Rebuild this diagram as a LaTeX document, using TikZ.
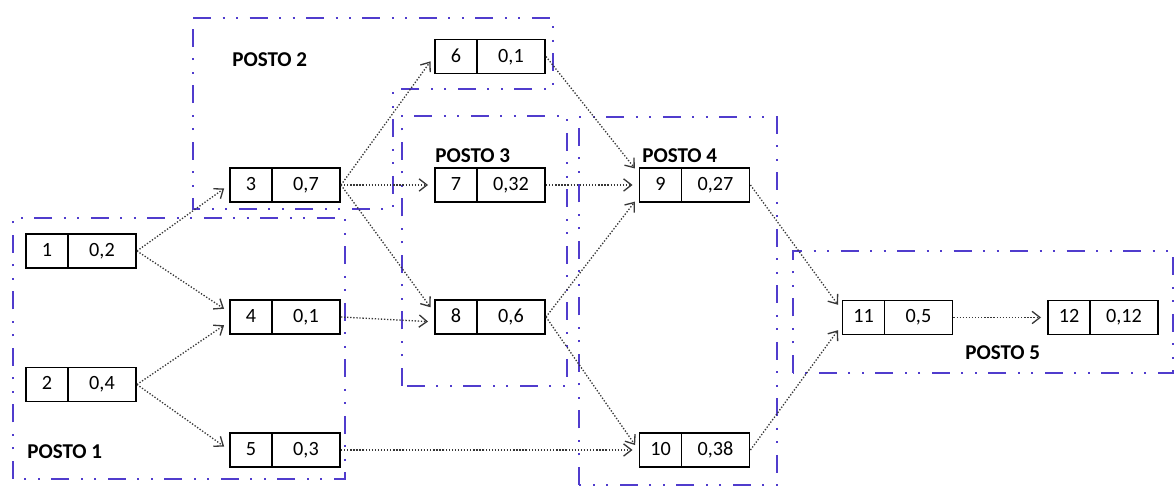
\documentclass[tikz,border=0pt]{standalone}
\usepackage{fontspec}
\setmainfont{Carlito}
\usetikzlibrary{arrows.meta}
\definecolor{azulposto}{RGB}{80,60,205}
\definecolor{cinzaseta}{RGB}{55,55,55}
% number | time, in two cells
\newcommand{\tarefa}[2]{\makebox[0.84cm]{#1}\makebox[1.36cm]{#2}}

\begin{document}
\begin{tikzpicture}[every node/.style={font=\fontsize{11.5}{13}\selectfont},
  caixa/.style={draw,fill=white,line width=1.1pt,inner sep=0pt,minimum width=2.2cm,minimum height=0.68cm,
    path picture={\draw[line width=1.1pt] ([xshift=0.84cm]path picture bounding box.south west) -- ([xshift=0.84cm]path picture bounding box.north west);}},
  posto/.style={azulposto,line width=1.6pt,dash pattern=on 0.36cm off 0.23cm on 0.04cm off 0.23cm on 0.04cm off 0.23cm},
  rotulo/.style={anchor=west,inner sep=0pt,font=\fontsize{12}{14}\selectfont\bfseries},
  seta/.style={cinzaseta,densely dotted,line width=0.75pt,-{Straight Barb[length=4.5pt,width=7pt]},shorten >=0.12cm}]
\useasboundingbox (0,0) rectangle (23.52,9.74);
% postos de trabalho
\draw[posto] (0.26,0.16) rectangle (6.90,5.38);
\draw[posto] (3.86,9.38) -- (11.06,9.38) -- (11.06,7.96) -- (7.86,7.96) -- (7.86,5.56) -- (3.86,5.56) -- cycle;
\draw[posto] (8.04,2.02) rectangle (11.34,7.42);
\draw[posto] (11.58,0.04) rectangle (15.54,7.40);
\draw[posto] (15.86,2.28) rectangle (23.46,4.72);
\node[rotulo] (p1) at (0.54,0.70) {POSTO 1};
\node[rotulo] (p2) at (4.64,8.54) {POSTO 2};
\node[rotulo] (p3) at (8.70,6.62) {POSTO 3};
\node[rotulo] (p4) at (12.84,6.62) {POSTO 4};
\node[rotulo] (p5) at (19.30,2.68) {POSTO 5};
% tarefas
\node[caixa] (n1) at (1.62,4.72) {\tarefa{1}{0,2}};
\node[caixa] (n2) at (1.62,2.05) {\tarefa{2}{0,4}};
\node[caixa] (n3) at (5.70,6.04) {\tarefa{3}{0,7}};
\node[caixa] (n4) at (5.70,3.40) {\tarefa{4}{0,1}};
\node[caixa] (n5) at (5.70,0.74) {\tarefa{5}{0,3}};
\node[caixa] (n6) at (9.80,8.61) {\tarefa{6}{0,1}};
\node[caixa] (n7) at (9.80,6.04) {\tarefa{7}{0,32}};
\node[caixa] (n8) at (9.80,3.40) {\tarefa{8}{0,6}};
\node[caixa] (n9) at (13.89,6.04) {\tarefa{9}{0,27}};
\node[caixa] (n10) at (13.89,0.74) {\tarefa{10}{0,38}};
\node[caixa] (n11) at (17.95,3.39) {\tarefa{11}{0,5}};
\node[caixa] (n12) at (22.06,3.39) {\tarefa{12}{0,12}};
% precedencias
\foreach \de/\para in {n1/n3.west,n1/n4.175,n2/n4.185,n2/n5.west,n3/n6.west,n3/n7.west,n3/n8.175,n4/n8.185,
  n5/n10.west,n6/n9.168,n7/n9.west,n8/n9.192,n8/n10.west,n9/n11.172,n10/n11.188,n11/n12.west}
  \draw[seta] (\de.east) -- (\para);
\end{tikzpicture}
\end{document}
